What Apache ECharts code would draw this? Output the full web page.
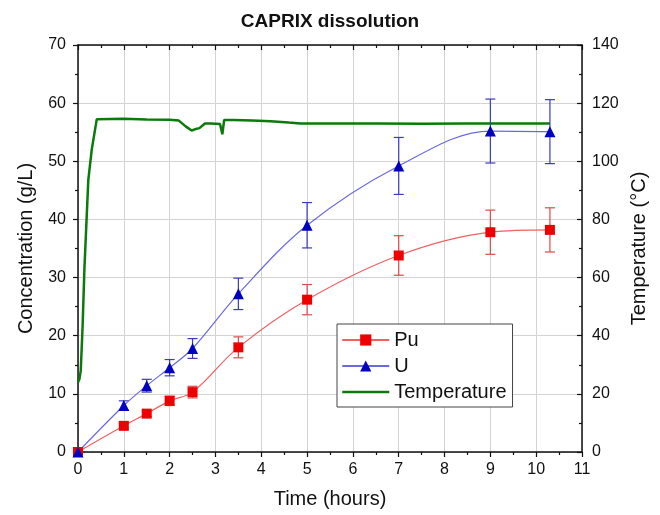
<!DOCTYPE html>
<html>
<head>
<meta charset="utf-8">
<script src="https://cdn.jsdelivr.net/npm/echarts@6/dist/echarts.min.js"></script>
<style>html,body{margin:0;padding:0;background:#fff;}#chart{width:660px;height:515px;}</style>
</head>
<body>
<div id="chart"></div>
<script>
const times = [0, 1, 1.5, 2, 2.5, 3.5, 5, 7, 9, 10.3];
const puValues = [0, 4.5, 6.6, 8.8, 10.3, 18.0, 26.2, 33.8, 37.8, 38.2];
const puErrors = [0, 0.4, 0.5, 0.8, 1.0, 1.8, 2.6, 3.4, 3.8, 3.8];
const uValues = [0, 8.0, 11.4, 14.5, 17.8, 27.2, 39.0, 49.2, 55.2, 55.1];
const uErrors = [0, 0.8, 1.1, 1.4, 1.7, 2.7, 3.9, 4.9, 5.5, 5.5];
const tempTimes = [0, 0.03, 0.06, 0.1, 0.14, 0.225, 0.3, 0.41, 1.0, 1.5, 2.0, 2.2, 2.35, 2.48, 2.55, 2.65, 2.77, 2.9, 3.1, 3.15, 3.19, 3.4, 3.8, 4.2, 4.6, 4.85, 5.5, 6.5, 7.5, 8.5, 9.5, 10.3];
const tempValues = [24, 25, 28, 43, 63, 93.6, 104, 114.5, 114.6, 114.4, 114.3, 114, 112, 110.6, 111, 111.4, 113, 113, 112.8, 109.3, 114.2, 114.2, 114, 113.8, 113.3, 113, 113, 113, 112.9, 113, 113, 113];
const xTicks = {min: 0, max: 11, step: 1};
const yLeftTicks = {min: 0, max: 70, step: 10};
const yRightTicks = {min: 0, max: 140, step: 20};

const FONT = '"Liberation Sans", Arial, sans-serif';
const chart = echarts.init(document.getElementById('chart'), null, {renderer: 'canvas'});

function pairs(xs, ys) { return xs.map((x, i) => [x, ys[i]]); }
function errData(xs, ys, es) {
  const out = [];
  xs.forEach((x, i) => { if (es[i] > 0) out.push([x, ys[i] - es[i], ys[i] + es[i]]); });
  return out;
}
function errRender(color) {
  return function (params, api) {
    const x = api.value(0);
    const lo = api.coord([x, api.value(1)]);
    const hi = api.coord([x, api.value(2)]);
    const w = 5;
    const style = {stroke: color, lineWidth: 1.2};
    return {
      type: 'group',
      children: [
        {type: 'line', shape: {x1: lo[0], y1: lo[1], x2: hi[0], y2: hi[1]}, style: style},
        {type: 'line', shape: {x1: hi[0] - w, y1: hi[1], x2: hi[0] + w, y2: hi[1]}, style: style},
        {type: 'line', shape: {x1: lo[0] - w, y1: lo[1], x2: lo[0] + w, y2: lo[1]}, style: style}
      ]
    };
  };
}

const axisLine = {show: true, onZero: false, lineStyle: {color: '#111', width: 1.5}};
const labelStyle = {fontSize: 16, color: '#111', fontFamily: FONT};
const nameStyle = {fontSize: 20, color: '#111', fontFamily: FONT};

const option = {
  animation: false,
  backgroundColor: '#fff',
  title: {
    text: 'CAPRIX dissolution', left: 'center', top: 7,
    textStyle: {fontSize: 19, fontWeight: 'bold', color: '#111', fontFamily: FONT}
  },
  grid: {left: 78, right: 78, top: 45, bottom: 63, containLabel: false},
  legend: {
    left: 337, top: 324, orient: 'vertical',
    data: ['Pu', 'U', {name: 'Temperature', itemStyle: {opacity: 0}, lineStyle: {width: 2.5}}],
    itemWidth: 47, itemHeight: 14, itemGap: 6,
    padding: [6, 6, 5, 4],
    borderColor: '#444', borderWidth: 1, backgroundColor: '#fff',
    textStyle: {fontSize: 20, color: '#111', fontFamily: FONT, lineHeight: 20}
  },
  xAxis: [
    {
      type: 'value', position: 'bottom', min: xTicks.min, max: xTicks.max, interval: xTicks.step,
      name: 'Time (hours)', nameLocation: 'middle', nameGap: 37, nameTextStyle: nameStyle,
      axisLine: axisLine,
      axisTick: {show: true, inside: false, length: 5, lineStyle: {color: '#111', width: 1.2}},
      minorTick: {show: true, splitNumber: 2, length: 3, lineStyle: {color: '#111', width: 1.2}},
      axisLabel: Object.assign({margin: 10}, labelStyle),
      splitLine: {show: true, lineStyle: {color: '#d3d3d3', width: 1}}
    },
    {
      type: 'value', position: 'top', min: xTicks.min, max: xTicks.max, interval: xTicks.step,
      axisLine: axisLine,
      axisTick: {show: true, inside: true, length: 5, lineStyle: {color: '#111', width: 1.2}},
      minorTick: {show: true, splitNumber: 2, length: 3, lineStyle: {color: '#111', width: 1.2}},
      axisLabel: {show: false},
      splitLine: {show: false}
    }
  ],
  yAxis: [
    {
      type: 'value', position: 'left', min: yLeftTicks.min, max: yLeftTicks.max, interval: yLeftTicks.step,
      name: 'Concentration (g/L)', nameLocation: 'middle', nameGap: 42, nameRotate: 90, nameTextStyle: nameStyle,
      axisLine: axisLine,
      axisTick: {show: true, inside: false, length: 5, lineStyle: {color: '#111', width: 1.2}},
      minorTick: {show: true, splitNumber: 2, length: 3, lineStyle: {color: '#111', width: 1.2}},
      axisLabel: Object.assign({margin: 12}, labelStyle),
      splitLine: {show: true, lineStyle: {color: '#d3d3d3', width: 1}}
    },
    {
      type: 'value', position: 'right', min: yRightTicks.min, max: yRightTicks.max, interval: yRightTicks.step,
      name: 'Temperature (°C)', nameLocation: 'middle', nameGap: 44, nameRotate: 90, nameTextStyle: nameStyle,
      axisLine: axisLine,
      axisTick: {show: true, inside: true, length: 5, lineStyle: {color: '#111', width: 1.2}},
      minorTick: {show: true, splitNumber: 2, length: 3, lineStyle: {color: '#111', width: 1.2}},
      axisLabel: Object.assign({margin: 10}, labelStyle),
      splitLine: {show: false}
    }
  ],
  series: [
    {
      name: 'Temperature', type: 'line', xAxisIndex: 0, yAxisIndex: 1,
      data: pairs(tempTimes, tempValues), showSymbol: false, symbol: 'none',
      lineStyle: {color: '#0a7a0a', width: 2.5}, itemStyle: {color: '#0a7a0a'}, z: 2
    },
    {
      name: 'PuErr', type: 'custom', xAxisIndex: 0, yAxisIndex: 0,
      data: errData(times, puValues, puErrors), renderItem: errRender('#e04848'),
      encode: {x: 0, y: [1, 2]}, z: 3
    },
    {
      name: 'UErr', type: 'custom', xAxisIndex: 0, yAxisIndex: 0,
      data: errData(times, uValues, uErrors), renderItem: errRender('#3a3ac0'),
      encode: {x: 0, y: [1, 2]}, z: 3
    },
    {
      name: 'Pu', type: 'line', xAxisIndex: 0, yAxisIndex: 0,
      data: pairs(times, puValues), smooth: 0.35,
      symbol: 'rect', symbolSize: 10,
      lineStyle: {color: '#f06060', width: 1.2},
      itemStyle: {color: '#ee0000'}, z: 4
    },
    {
      name: 'U', type: 'line', xAxisIndex: 0, yAxisIndex: 0,
      data: pairs(times, uValues), smooth: 0.35,
      symbol: 'triangle', symbolSize: 11,
      lineStyle: {color: '#6a6ae0', width: 1.2},
      itemStyle: {color: '#0000c0'}, z: 4
    }
  ]
};
chart.setOption(option);
</script>
</body>
</html>
